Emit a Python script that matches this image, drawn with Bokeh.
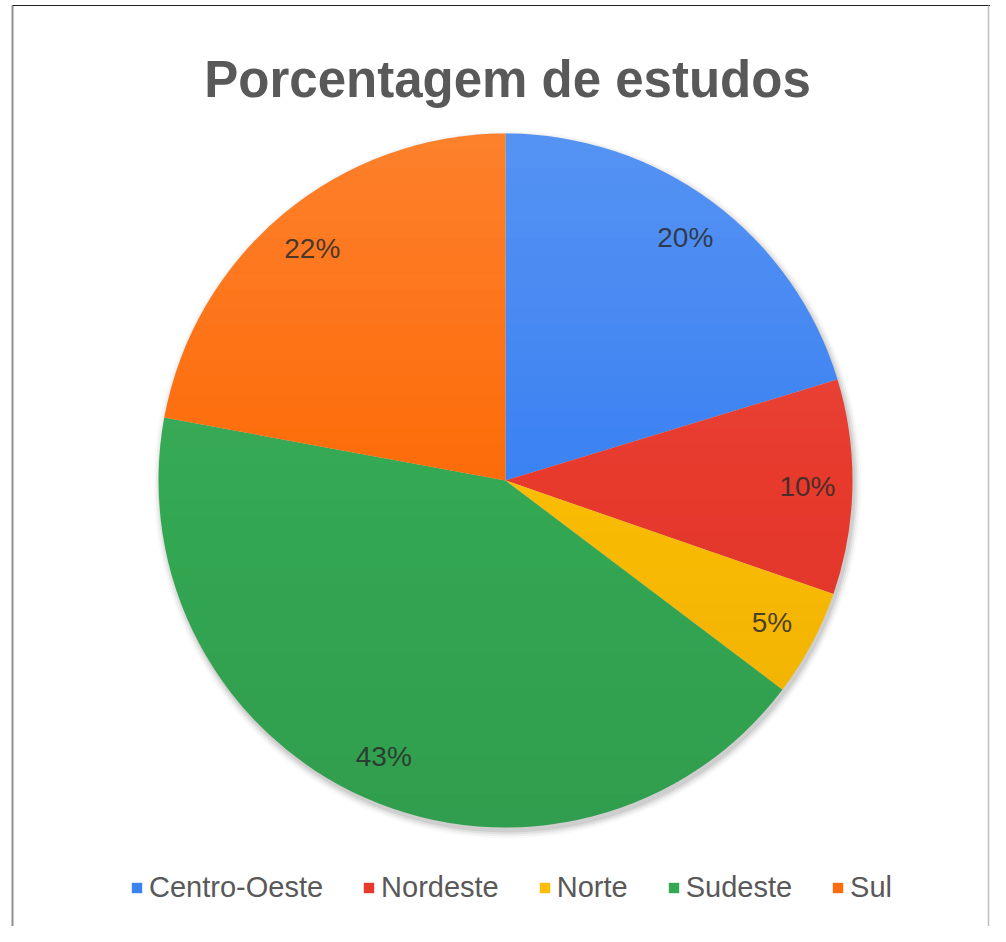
import math
from bokeh.plotting import figure
from bokeh.models import Range1d, ColumnDataSource, Legend, LegendItem
from bokeh.core.properties import value
from bokeh.embed import file_html
from bokeh.resources import INLINE

# ---- data ----
categories = ["Centro-Oeste", "Nordeste", "Norte", "Sudeste", "Sul"]
shares = [20.3, 10.0, 5.0, 42.6, 22.1]
colors = ["#3b82f2", "#e8392d", "#fbbc04", "#34a853", "#fd6c0a"]
title_text = "Porcentagem de estudos"

# ---- layout (data units == picture pixels; y_data = H - pic_y) ----
W, H = 990, 926
def Y(pic_y):
    return H - pic_y

cx, cy = 505, Y(480)
R = 347
label_r = 302

p = figure(width=W, height=H, output_backend="svg", toolbar_location=None,
           x_range=Range1d(0, W), y_range=Range1d(0, H),
           min_border=0, outline_line_color=None)
p.xaxis.visible = False
p.yaxis.visible = False
p.xgrid.visible = False
p.ygrid.visible = False
p.background_fill_color = "white"
p.border_fill_color = "white"

# frame border (left, top, right)
p.line([12, 12], [Y(926), Y(5)], line_color="#8f8f8f", line_width=2)
p.line([12, 990], [Y(5), Y(5)], line_color="#222222", line_width=1)
p.line([988, 988], [Y(5), Y(926)], line_color="#bdbdbd", line_width=1.5)

# soft shadow
for k, a in [(7, 0.025), (5, 0.04), (3, 0.06), (1, 0.08)]:
    p.circle([cx + 2], [cy - 4], radius=R + k, fill_color="#000000", fill_alpha=a,
             line_color=None)

# wedges
total = sum(shares)
starts, ends, mids = [], [], []
cum = 0.0
for v in shares:
    a0 = math.pi / 2 - 2 * math.pi * cum / total
    cum += v
    a1 = math.pi / 2 - 2 * math.pi * cum / total
    starts.append(a0)
    ends.append(a1)
    mids.append((a0 + a1) / 2)

src = ColumnDataSource(dict(cat=categories, start=starts, end=ends, color=colors))
wr = p.wedge(x=cx, y=cy, radius=R, start_angle="start", end_angle="end",
             direction="clock", fill_color="color", line_color=None, source=src)

# vertical light gradient overlay (bands clipped to circle)
nb = 40
for i in range(nb):
    t0 = i / nb
    t1 = (i + 1) / nb
    ytop = cy + R - 2 * R * t0
    ybot = cy + R - 2 * R * t1
    ys = [ytop - (ytop - ybot) * j / 10 for j in range(11)]
    right = [cx + math.sqrt(max(R * R - (yy - cy) ** 2, 0)) for yy in ys]
    left = [cx - math.sqrt(max(R * R - (yy - cy) ** 2, 0)) for yy in ys]
    xs = right + left[::-1]
    yy2 = ys + ys[::-1]
    tm = (t0 + t1) / 2
    if tm < 0.5:
        col, al = "white", 0.14 * (0.5 - tm) / 0.5
    else:
        col, al = "black", 0.06 * (tm - 0.5) / 0.5
    p.patch(xs, yy2, fill_color=col, fill_alpha=al, line_color=None)

# percentage labels
lx = [cx + label_r * math.cos(m) for m in mids]
ly = [cy + label_r * math.sin(m) for m in mids]
labels = [f"{v / total * 100:.0f}%" for v in shares]
p.text(x=lx, y=ly, text=labels, text_align="center", text_baseline="middle",
       text_font=value("Liberation Sans"), text_font_size="28px",
       text_color="#2b2b2b", text_alpha=0.85)

# title
p.text(x=[507], y=[Y(79)], text=[title_text], text_align="center",
       text_baseline="alphabetic", text_font=value("Liberation Sans"),
       text_font_size="51px", text_font_style="bold", text_color="#595959")

# legend
items = [LegendItem(label=c, renderers=[wr], index=i) for i, c in enumerate(categories)]
legend = Legend(items=items, orientation="horizontal", location=(130, 22),
                glyph_width=13, glyph_height=13, label_standoff=6, spacing=39,
                label_text_font="Liberation Sans", label_text_font_size="29px",
                label_text_color="#595959", border_line_color=None,
                background_fill_alpha=0, padding=0, margin=0)
p.add_layout(legend, "center")

open("out.html", "w").write(file_html(p, INLINE))
